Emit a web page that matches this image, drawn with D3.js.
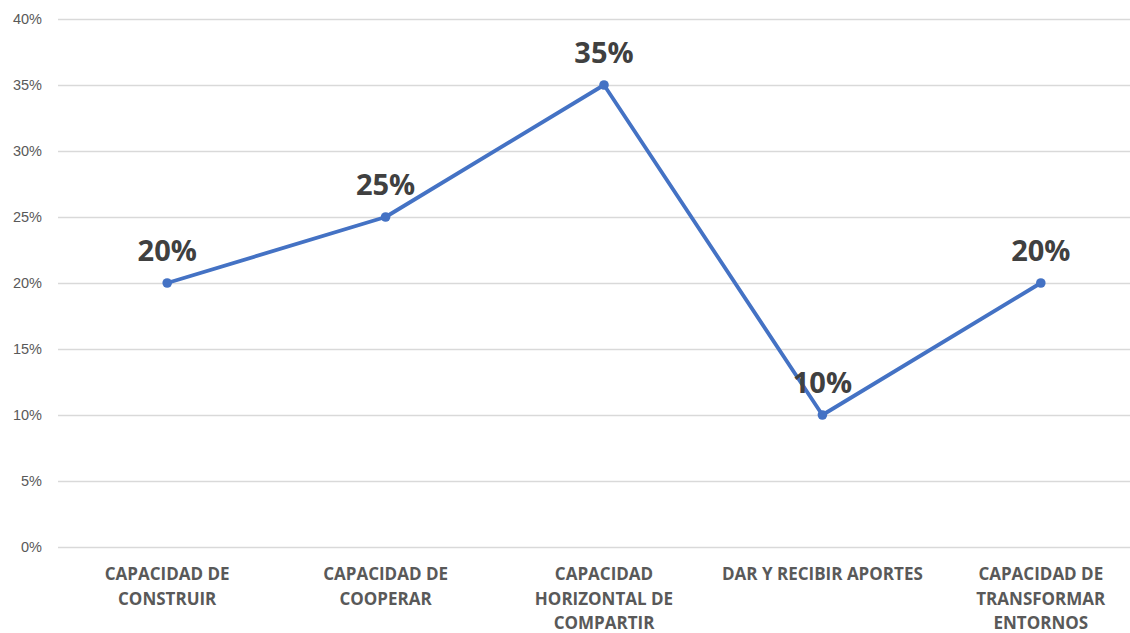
<!DOCTYPE html>
<html>
<head>
<meta charset="utf-8">
<script src="https://cdn.jsdelivr.net/npm/d3@7"></script>
<style>
  body { margin: 0; background: #fff; }
  svg { display: block; font-family: "Open Sans", "Liberation Sans", sans-serif; }
</style>
</head>
<body>
<script>
'use strict';

// categories (with line breaks as in the original chart)
const categories = [
  "CAPACIDAD DE\nCONSTRUIR",
  "CAPACIDAD DE\nCOOPERAR",
  "CAPACIDAD\nHORIZONTAL DE\nCOMPARTIR",
  "DAR Y RECIBIR APORTES",
  "CAPACIDAD DE\nTRANSFORMAR\nENTORNOS"
];
const values = [0.20, 0.25, 0.35, 0.10, 0.20];
const yTicks = [0, 0.05, 0.10, 0.15, 0.20, 0.25, 0.30, 0.35, 0.40];

const width = 1130, height = 633;

const svg = d3.select('body').append('svg')
  .attr('width', width)
  .attr('height', height);

// x: one band per category, plot area runs past the right edge
const xScale = d3.scaleBand()
  .domain(categories)
  .range([58, 1150]);
const xMid = (c) => xScale(c) + xScale.bandwidth() / 2;

const yScale = d3.scaleLinear()
  .domain([0, 0.40])
  .range([547, 19]);

const pct = d3.format('.0%');

// gridlines + y labels
const yAxis = d3.axisLeft(yScale)
  .tickValues(yTicks)
  .tickFormat(pct)
  .tickSize(-(1150 - 58))
  .tickPadding(16);

const gy = svg.append('g')
  .attr('transform', 'translate(58,0)')
  .call(yAxis);
gy.select('.domain').remove();
gy.selectAll('.tick line')
  .attr('stroke', '#d9d9d9')
  .attr('stroke-width', 1.3);
gy.selectAll('.tick text')
  .attr('fill', '#595959')
  .style('font-size', '14.5px');

// category labels
categories.forEach((c) => {
  const lines = c.split('\n');
  const t = svg.append('text')
    .attr('x', xMid(c))
    .attr('y', 580)
    .attr('text-anchor', 'middle')
    .attr('fill', '#595959')
    .style('font-size', '17px')
    .style('font-weight', 'bold');
  lines.forEach((ln, i) => {
    t.append('tspan')
      .attr('x', xMid(c))
      .attr('dy', i === 0 ? 0 : 24.5)
      .text(ln);
  });
});

const points = categories.map((c, i) => ({ cat: c, val: values[i] }));

// line
const line = d3.line()
  .x((d) => xMid(d.cat))
  .y((d) => yScale(d.val));

svg.append('path')
  .datum(points)
  .attr('d', line)
  .attr('fill', 'none')
  .attr('stroke', '#4472c4')
  .attr('stroke-width', 3.8)
  .attr('stroke-linejoin', 'round');

svg.selectAll('.dot')
  .data(points)
  .enter()
  .append('circle')
    .attr('cx', (d) => xMid(d.cat))
    .attr('cy', (d) => yScale(d.val))
    .attr('r', 4.8)
    .attr('fill', '#4472c4');

// data labels
svg.selectAll('.lbl')
  .data(points)
  .enter()
  .append('text')
    .attr('x', (d) => xMid(d.cat))
    .attr('y', (d) => yScale(d.val) - 22)
    .attr('text-anchor', 'middle')
    .attr('fill', '#404040')
    .style('font-size', '29px')
    .style('font-weight', 'bold')
    .text((d) => pct(d.val));
</script>
</body>
</html>
